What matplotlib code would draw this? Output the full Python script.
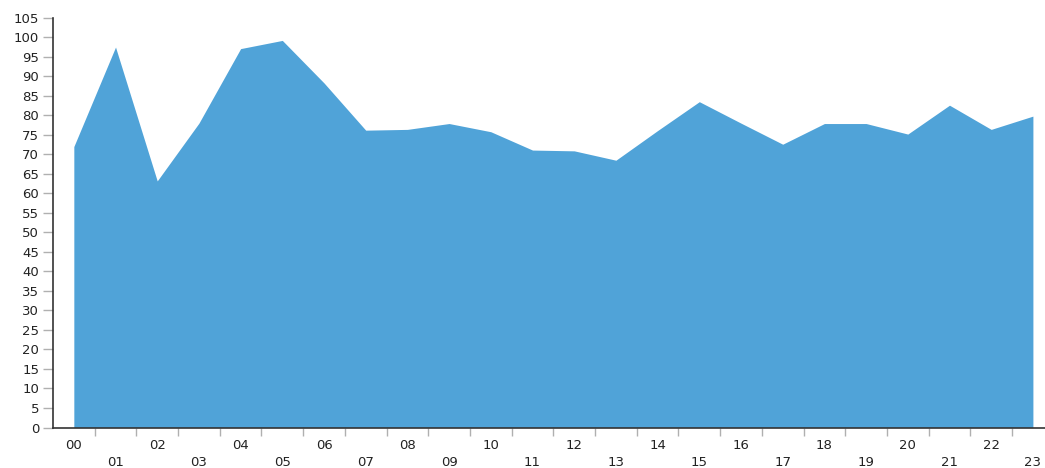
import matplotlib
matplotlib.use("Agg")
import matplotlib.pyplot as plt
import numpy as np

hours = ['00', '01', '02', '03', '04', '05', '06', '07', '08', '09', '10', '11',
         '12', '13', '14', '15', '16', '17', '18', '19', '20', '21', '22', '23']
values = [72, 97.5, 63.2, 78, 97.1, 99.2, 88.3, 76.2, 76.4, 77.9, 75.8, 71.1,
          70.9, 68.5, 76.1, 83.5, 78, 72.6, 77.9, 77.9, 75.2, 82.6, 76.4, 79.8]

fill_color = '#50a3d8'
axis_color = '#333333'
tick_color = '#b0b0b0'

fig = plt.figure(figsize=(10.45, 4.68), dpi=100)
ax = fig.add_axes([0.0507, 0.0865, 0.9493, 0.8755])

x = np.arange(len(hours))
ax.fill_between(x, 0, values, color=fill_color, linewidth=0)

ax.set_xlim(-0.5, 23.29)
ax.set_ylim(0, 105)

# y axis
ax.set_yticks(np.arange(0, 106, 5))
ax.tick_params(axis='y', which='major', direction='out', length=7, width=1,
               color=tick_color, labelsize=9.5, labelcolor='#222222', pad=3)

# x axis: labels on categories, tick marks on the boundaries
ax.set_xticks(x)
ax.set_xticklabels([h if i % 2 == 0 else '\n' + h for i, h in enumerate(hours)],
                   linespacing=1.4)
ax.tick_params(axis='x', which='major', length=0, labelsize=9.5,
               labelcolor='#222222', pad=8)
ax.set_xticks(x[:-1] + 0.5, minor=True)
ax.tick_params(axis='x', which='minor', direction='out', length=6, width=1,
               color=tick_color)

for side in ['top', 'right']:
    ax.spines[side].set_visible(False)
ax.spines['left'].set_color(axis_color)
ax.spines['bottom'].set_color(axis_color)
ax.spines['left'].set_linewidth(1.2)
ax.spines['bottom'].set_linewidth(1.2)

fig.savefig('out.png', dpi=100)
